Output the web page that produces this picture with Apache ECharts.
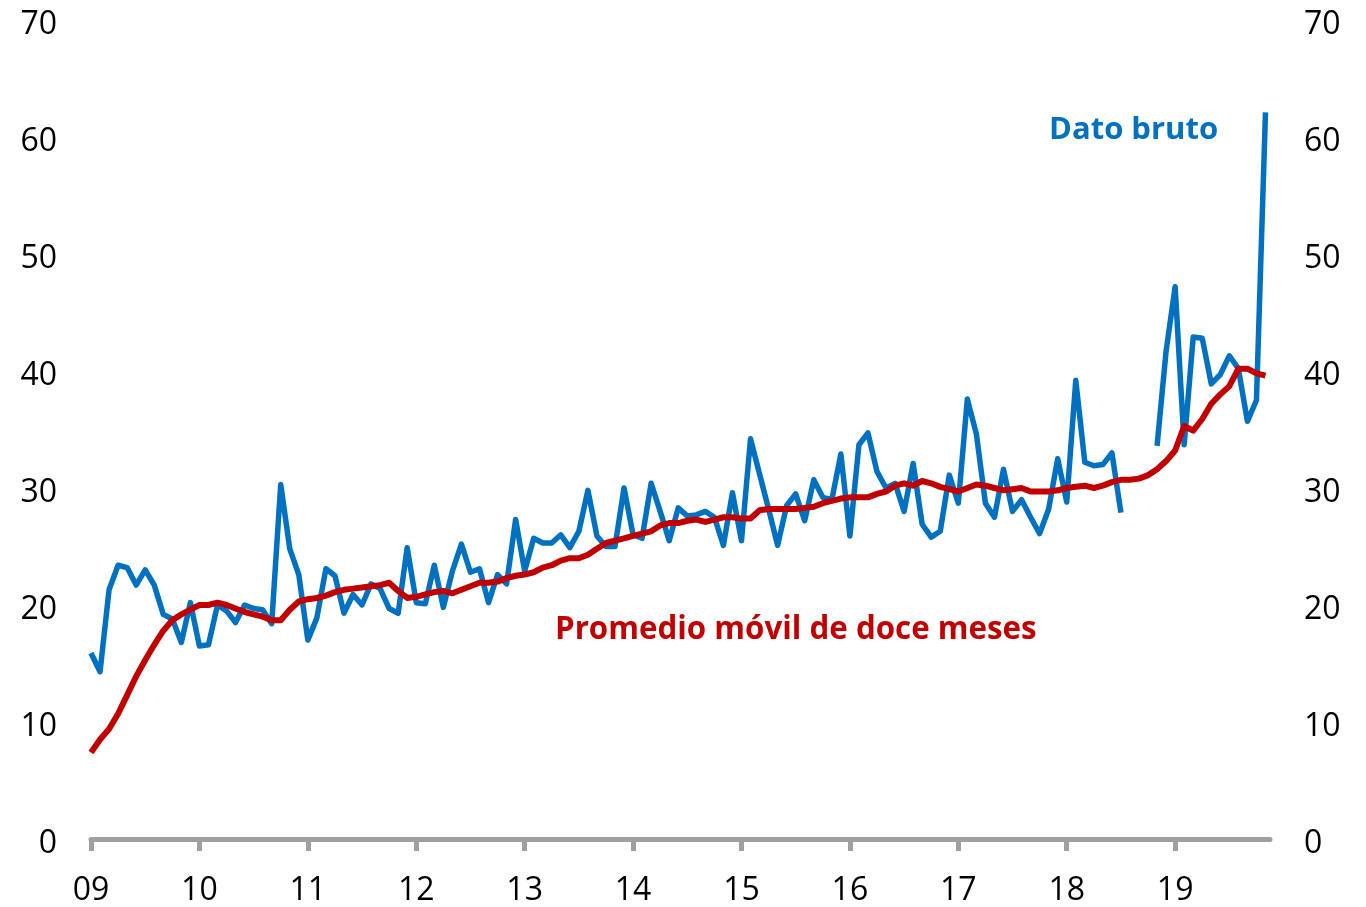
<!DOCTYPE html>
<html>
<head>
<meta charset="utf-8">
<title>Dato bruto y promedio móvil</title>
<script src="https://cdn.jsdelivr.net/npm/echarts@6/dist/echarts.min.js"></script>
<style>
  html, body { margin: 0; padding: 0; background: #ffffff; }
  #chart { width: 1366px; height: 907px; }
</style>
</head>
<body>
<div id="chart"></div>
<script>
// ─── 데이터 (월별, 2009-01 ~ 2019-11) ───

const yearLabels = ['09', '10', '11', '12', '13', '14', '15', '16', '17', '18', '19'];

// 원자료 (2018년 8~10월은 결측)
const datoBruto = [
  15.9, 14.3, 21.3, 23.4, 23.2, 21.7, 23.0, 21.7, 19.2, 18.8, 16.8, 20.2,
  16.5, 16.6, 20.0, 19.5, 18.5, 20.0, 19.7, 19.6, 18.4, 30.3, 24.8, 22.6,
  17.0, 18.9, 23.1, 22.5, 19.3, 20.9, 20.0, 21.8, 21.4, 19.7, 19.3, 24.9,
  20.2, 20.1, 23.4, 19.8, 22.9, 25.2, 22.8, 23.1, 20.2, 22.6, 21.8, 27.3,
  22.9, 25.7, 25.3, 25.3, 26.0, 24.9, 26.3, 29.8, 25.9, 25.0, 25.0, 30.0,
  26.0, 25.7, 30.4, 28.0, 25.5, 28.3, 27.6, 27.7, 28.0, 27.5, 25.1, 29.6,
  25.5, 34.2, 31.2, 28.2, 25.1, 28.5, 29.5, 27.2, 30.7, 29.2, 29.0, 32.9,
  25.9, 33.7, 34.7, 31.4, 30.0, 30.4, 28.0, 32.1, 26.9, 25.8, 26.3, 31.1,
  28.7, 37.6, 34.6, 28.7, 27.5, 31.6, 28.0, 29.0, 27.5, 26.1, 28.2, 32.5,
  28.8, 39.2, 32.2, 31.9, 32.0, 33.0, 27.9, null, null, null, 33.6, 41.7,
  47.2, 33.7, 42.9, 42.8, 38.9, 39.7, 41.3, 40.2, 35.7, 37.5, 62.1,
];

// 12개월 이동평균
const promedioMovil = [
  7.4, 8.5, 9.4, 10.7, 12.3, 13.9, 15.3, 16.6, 17.8, 18.7, 19.2, 19.6,
  20.0, 20.0, 20.2, 20.0, 19.7, 19.4, 19.2, 19.0, 18.7, 18.7, 19.6, 20.3,
  20.5, 20.6, 20.8, 21.1, 21.3, 21.4, 21.5, 21.6, 21.7, 21.9, 21.2, 20.6,
  20.7, 20.9, 21.1, 21.2, 21.0, 21.3, 21.6, 21.9, 21.9, 22.0, 22.3, 22.5,
  22.6, 22.8, 23.2, 23.4, 23.8, 24.0, 24.0, 24.3, 24.8, 25.3, 25.5, 25.7,
  25.9, 26.1, 26.3, 26.8, 27.0, 27.0, 27.2, 27.3, 27.1, 27.3, 27.5, 27.5,
  27.4, 27.4, 28.1, 28.2, 28.2, 28.2, 28.2, 28.3, 28.4, 28.7, 28.9, 29.1,
  29.2, 29.2, 29.2, 29.5, 29.7, 30.2, 30.4, 30.2, 30.6, 30.4, 30.1, 29.9,
  29.7, 30.0, 30.3, 30.2, 30.0, 29.8, 29.9, 30.0, 29.7, 29.7, 29.7, 29.8,
  30.0, 30.1, 30.2, 30.0, 30.2, 30.5, 30.7, 30.7, 30.8, 31.1, 31.6, 32.3,
  33.2, 35.3, 34.9, 35.9, 37.2, 38.0, 38.7, 40.2, 40.2, 39.8, 39.6,
];

const yTicks = [0, 10, 20, 30, 40, 50, 60, 70];

// ─── 스타일 ───

const BLUE = '#0070C0';
const RED = '#C00000';
const AXIS_GRAY = '#A0A0A0';
const FONT = "'Open Sans', 'Noto Sans', sans-serif";

// 연도 눈금 위치 (각 해의 1월 = 12개월 간격)
const yearTickValues = yearLabels.map((_, k) => k * 12);

const toPairs = (arr) => arr.map((v, i) => [i, v == null ? '-' : v]);

// 세로축 라벨: Open Sans 의 위쪽 여백 때문에 글자가 살짝 위로 뜨므로 rich padding 으로 보정
function yAxisCfg(position) {
  return {
    type: 'value',
    position,
    min: yTicks[0],
    max: yTicks[yTicks.length - 1],
    interval: 10,
    axisLine: { show: false },
    axisTick: { show: false },
    splitLine: { show: false },
    axisLabel: {
      margin: 34,
      formatter: (v) => `{n|${v}}`,
      rich: {
        n: { fontFamily: FONT, fontSize: 32, color: '#000000', padding: [9, 0, 0, 0] },
      },
    },
  };
}

const chart = echarts.init(document.getElementById('chart'), null, { renderer: 'canvas' });

chart.setOption({
  animation: false,
  backgroundColor: '#ffffff',
  grid: { left: 91, right: 96, top: 20, bottom: 64, containLabel: false },
  xAxis: {
    type: 'value',
    min: 0,
    max: datoBruto.length - 0.5,
    axisLine: { show: true, onZero: false, lineStyle: { color: AXIS_GRAY, width: 5 } },
    axisTick: {
      show: true,
      customValues: yearTickValues,
      length: 12,
      lineStyle: { color: AXIS_GRAY, width: 5 },
    },
    axisLabel: {
      customValues: yearTickValues,
      formatter: (v) => yearLabels[Math.round(v / 12)] ?? '',
      fontFamily: FONT,
      fontSize: 32,
      color: '#000000',
      margin: 36,
    },
    splitLine: { show: false },
  },
  yAxis: [yAxisCfg('left'), yAxisCfg('right')],
  series: [
    {
      name: 'Dato bruto',
      type: 'line',
      data: toPairs(datoBruto),
      showSymbol: false,
      symbol: 'none',
      connectNulls: false,
      lineStyle: { color: BLUE, width: 5.5, join: 'round' },
      z: 2,
    },
    {
      name: 'Promedio móvil de doce meses',
      type: 'line',
      data: toPairs(promedioMovil),
      showSymbol: false,
      symbol: 'none',
      lineStyle: { color: RED, width: 6, join: 'round' },
      z: 3,
    },
  ],
  graphic: [
    {
      type: 'text',
      left: 1049,
      top: 115,
      style: { text: 'Dato bruto', fill: BLUE, font: `bold 31px ${FONT}` },
    },
    {
      type: 'text',
      left: 555,
      top: 615,
      style: { text: 'Promedio móvil de doce meses', fill: RED, font: `bold 31.3px ${FONT}` },
    },
  ],
});
</script>
</body>
</html>
